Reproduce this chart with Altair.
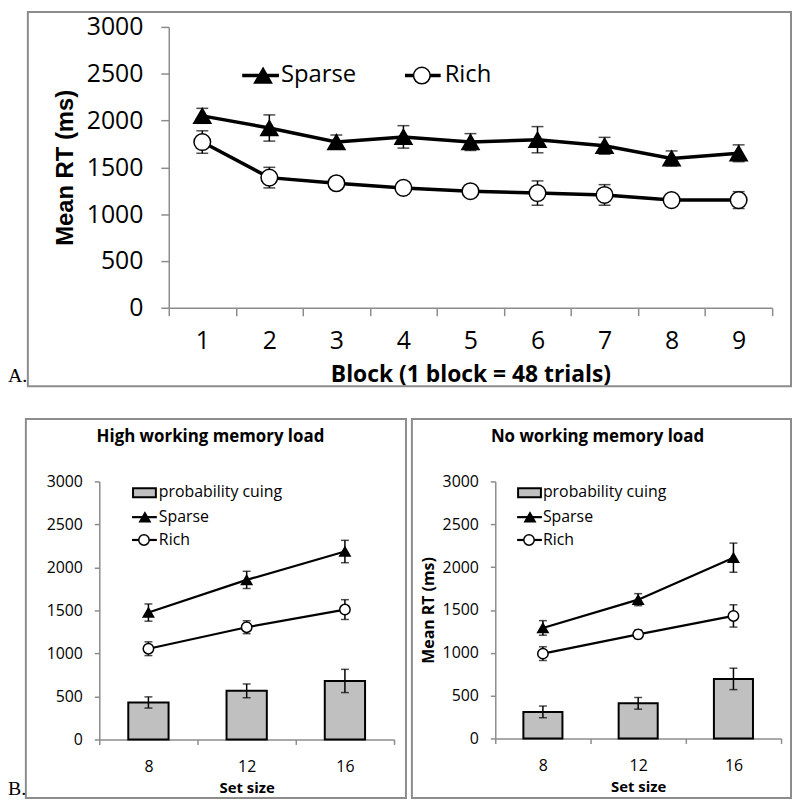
import altair as alt
import pandas as pd

# ---------------- data ----------------
blocks = [1, 2, 3, 4, 5, 6, 7, 8, 9]
top_sparse = [2050, 1920, 1770, 1825, 1770, 1795, 1730, 1595, 1650]
top_sparse_err = [80, 140, 75, 120, 90, 140, 90, 80, 90]
top_rich = [1770, 1390, 1330, 1280, 1245, 1225, 1205, 1150, 1150]
top_rich_err = [120, 110, 60, 60, 55, 130, 110, 60, 90]

set_sizes = ["8", "12", "16"]
high_cuing = [430, 565, 680]
high_cuing_err = [65, 80, 135]
high_sparse = [1475, 1855, 2185]
high_sparse_err = [100, 100, 130]
high_rich = [1055, 1305, 1510]
high_rich_err = [80, 75, 115]

no_cuing = [310, 410, 695]
no_cuing_err = [68, 68, 125]
no_sparse = [1290, 1620, 2110]
no_sparse_err = [85, 70, 170]
no_rich = [990, 1215, 1430]
no_rich_err = [80, 50, 130]

y_ticks = [0, 500, 1000, 1500, 2000, 2500, 3000]

W, H = 790, 795
SANS = "Open Sans"
GRAY = "#8c8c8c"


def sdf(x, vals, errs):
    return pd.DataFrame({
        "x": x,
        "v": vals,
        "lo": [v - e for v, e in zip(vals, errs)],
        "hi": [v + e for v, e in zip(vals, errs)],
    })


def one():
    return alt.Data(values=[{}])


def series_layers(df, xenc, yscale, shape, fill, size, lw, cap):
    base = alt.Chart(df)
    line = base.mark_line(color="black", strokeWidth=lw).encode(x=xenc, y=alt.Y("v:Q", scale=yscale))
    rule = base.mark_rule(color="black", strokeWidth=1.5).encode(
        x=xenc, y=alt.Y("lo:Q", scale=yscale), y2="hi:Q")
    cap_hi = base.mark_tick(color="black", size=cap, thickness=1.5).encode(
        x=xenc, y=alt.Y("hi:Q", scale=yscale))
    cap_lo = base.mark_tick(color="black", size=cap, thickness=1.5).encode(
        x=xenc, y=alt.Y("lo:Q", scale=yscale))
    pts = base.mark_point(shape=shape, filled=True, fill=fill, stroke="black", strokeWidth=1.5,
                          size=size, opacity=1).encode(
        x=xenc, y=alt.Y("v:Q", scale=yscale))
    return [line, rule, cap_hi, cap_lo, pts]


# ---------------- top chart ----------------
TX0, TX1, TY0, TY1 = 162, 770, 299, 16
top_xscale = alt.Scale(type="band", domain=blocks, range=[TX0, TX1], paddingInner=0, paddingOuter=0)
top_yscale = alt.Scale(domain=[0, 3000], range=[TY0, TY1], nice=False, zero=True)
top_xenc = alt.X("x:O", scale=top_xscale)

top_axis_layer = alt.Chart(sdf(blocks, top_sparse, top_sparse_err)).mark_point(opacity=0).encode(
    x=alt.X("x:O", scale=top_xscale, axis=alt.Axis(
        orient="bottom", offset=TY0 - H, tickBand="extent", tickSize=8, labelAngle=0,
        labelFont=SANS, labelFontSize=25, labelPadding=13,
        title="Block (1 block = 48 trials)", titleFont=SANS,
        titleFontSize=23, titleFontWeight="bold",
        titleX=(TX0 + TX1) / 2, titleY=67, titleBaseline="middle", titleAlign="center")),
    y=alt.Y("v:Q", scale=top_yscale, axis=alt.Axis(
        orient="left", offset=-TX0, values=y_ticks, format="d", tickSize=8,
        labelFont=SANS, labelFontSize=25, labelPadding=18,
        title="Mean RT (ms)", titleFont="Liberation Sans", titleFontSize=24,
        titleFontWeight="bold", titleX=-92, titleY=(TY0 + TY1) / 2,
        titleAlign="center", titleBaseline="bottom", titleAngle=270)),
)

top = alt.layer(
    top_axis_layer,
    *series_layers(sdf(blocks, top_sparse, top_sparse_err), top_xenc, top_yscale,
                   "triangle-up", "black", 300, 3.5, 12),
    *series_layers(sdf(blocks, top_rich, top_rich_err), top_xenc, top_yscale,
                   "circle", "white", 280, 3.5, 12),
)


# ---------------- bottom panels ----------------
def bottom_panel(cuing, cuing_err, sparse, sparse_err, rich, rich_err, x0, x1, y0, y1, ytitle):
    xscale = alt.Scale(type="band", domain=set_sizes, range=[x0, x1], paddingInner=0, paddingOuter=0)
    yscale = alt.Scale(domain=[0, 3000], range=[y0, y1], nice=False, zero=True)
    xenc = alt.X("x:O", scale=xscale)
    yaxis_kw = dict(orient="left", offset=-x0, values=y_ticks, format="d", tickSize=5,
                    labelFont=SANS, labelFontSize=16, labelPadding=12)
    if ytitle:
        yaxis_kw.update(title=ytitle, titleFont=SANS, titleFontSize=16,
                        titleFontWeight="bold", titleX=-59, titleY=(y0 + y1) / 2,
                        titleAlign="center", titleBaseline="bottom", titleAngle=270)
    else:
        yaxis_kw.update(title="")
    bar_df = sdf(set_sizes, cuing, cuing_err)
    bars = alt.Chart(bar_df).mark_bar(width={"band": 0.41}, fill="#c0c0c0", stroke="black",
                                      strokeWidth=2).encode(
        x=alt.X("x:O", scale=xscale, axis=alt.Axis(
            orient="bottom", offset=y0 - H, tickBand="extent", tickSize=5, labelAngle=0,
            labelFont=SANS, labelFontSize=16, labelPadding=14,
            title="Set size", titleFont=SANS, titleFontSize=15, titleFontWeight="bold",
            titleX=(x0 + x1) / 2, titleY=48, titleBaseline="middle", titleAlign="center")),
        y=alt.Y("v:Q", scale=yscale, axis=alt.Axis(**yaxis_kw)),
    )
    bar_rule = alt.Chart(bar_df).mark_rule(color="black", strokeWidth=1.5).encode(
        x=xenc, y=alt.Y("lo:Q", scale=yscale), y2="hi:Q")
    bar_cap_hi = alt.Chart(bar_df).mark_tick(color="black", size=8, thickness=1.5).encode(
        x=xenc, y=alt.Y("hi:Q", scale=yscale))
    bar_cap_lo = alt.Chart(bar_df).mark_tick(color="black", size=8, thickness=1.5).encode(
        x=xenc, y=alt.Y("lo:Q", scale=yscale))
    return alt.layer(
        bars, bar_rule, bar_cap_hi, bar_cap_lo,
        *series_layers(sdf(set_sizes, sparse, sparse_err), xenc, yscale, "triangle-up", "black", 110, 2.2, 8),
        *series_layers(sdf(set_sizes, rich, rich_err), xenc, yscale, "circle", "white", 110, 2.2, 8),
    )


left = bottom_panel(high_cuing, high_cuing_err, high_sparse, high_sparse_err, high_rich, high_rich_err,
                    92, 389, 734, 474, None)
right = bottom_panel(no_cuing, no_cuing_err, no_sparse, no_sparse_err, no_rich, no_rich_err,
                     491, 779, 733, 474, "Mean RT (ms)")


# ---------------- decorations: frames, titles, legends ----------------
def frame(x, x2, y, y2):
    return alt.Chart(one()).mark_rect(fillOpacity=0, stroke=GRAY, strokeWidth=2).encode(
        x=alt.value(x), x2=alt.value(x2), y=alt.value(y), y2=alt.value(y2))


def label(txt, x, y, size, font=SANS, weight="normal", align="left"):
    return alt.Chart(one()).mark_text(align=align, baseline="middle", font=font, fontSize=size,
                                      fontWeight=weight, color="black").encode(
        x=alt.value(x), y=alt.value(y), text=alt.value(txt))


def seg(x, x2, y, w):
    return alt.Chart(one()).mark_rule(color="black", strokeWidth=w).encode(
        x=alt.value(x), x2=alt.value(x2), y=alt.value(y))


def sym(x, y, shape, fill, size):
    return alt.Chart(one()).mark_point(shape=shape, filled=True, fill=fill, stroke="black",
                                       strokeWidth=1.5, size=size, opacity=1).encode(
        x=alt.value(x), y=alt.value(y))


def box(x, x2, y, y2):
    return alt.Chart(one()).mark_rect(fill="#c0c0c0", stroke="black", strokeWidth=2).encode(
        x=alt.value(x), x2=alt.value(x2), y=alt.value(y), y2=alt.value(y2))


decor = [
    frame(20, 789, 1, 378),
    frame(18, 401, 411, 793),
    frame(407, 789, 411, 793),
    label("A.", 0, 368, 20, font="Liberation Serif"),
    label("B.", 0, 784, 20, font="Liberation Serif"),
    # top legend
    seg(236, 273, 65, 3.5), sym(257, 65, "triangle-up", "black", 300),
    label("Sparse", 275, 65, 24),
    seg(400, 436, 65, 3.5), sym(417, 65, "circle", "white", 280),
    label("Rich", 440, 65, 24),
    # bottom titles
    label("High working memory load", 204, 429, 17, weight="bold", align="center"),
    label("No working memory load", 594, 429, 17, weight="bold", align="center"),
    # bottom-left legend
    box(126, 149, 481, 490), label("probability cuing", 152, 485, 16),
    seg(125, 150, 510, 2.2), sym(138, 510, "triangle-up", "black", 110), label("Sparse", 152, 510, 16),
    seg(125, 150, 533, 2.2), sym(137, 533, "circle", "white", 110), label("Rich", 152, 533, 16),
    # bottom-right legend
    box(514, 537, 481, 490), label("probability cuing", 539, 485, 16),
    seg(513, 538, 510, 2.2), sym(526, 510, "triangle-up", "black", 110), label("Sparse", 539, 510, 16),
    seg(513, 538, 533, 2.2), sym(525, 533, "circle", "white", 110), label("Rich", 539, 533, 16),
]

chart = alt.layer(top, left, right, *decor).resolve_scale(
    x="independent", y="independent"
).properties(
    width=W, height=H, autosize=alt.AutoSizeParams(type="none"), padding=0
).configure_view(stroke="transparent").configure_axis(
    grid=False, domainColor=GRAY, tickColor=GRAY, domainWidth=1.5, tickWidth=1.5,
    labelColor="black", titleColor="black"
)

chart.save("out.html", embed_options={"renderer": "svg", "actions": False})
